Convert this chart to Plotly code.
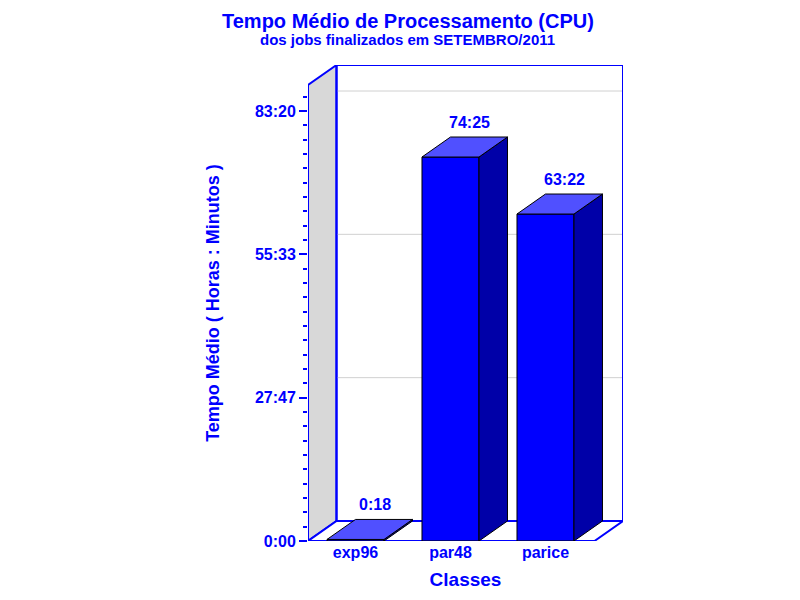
import plotly.graph_objects as go

classes = ["exp96", "par48", "parice"]
cpu_minutes = [18, 4465, 3802]          # 0:18, 74:25, 63:22
tick_minutes = [0, 1666.67, 3333.33, 5000]
tick_labels = ["0:00", "27:47", "55:33", "83:20"]

BLUE = "#0000FF"
FONT = "Liberation Sans"
YMAX = 5535
DY = 232.6      # depth offset in minutes (20px)
DX = 0.3        # depth offset in category units
HALF = 0.3
XMAX = 3.316
FRONT_TOP = 5302

def fmt(m):
    return f"{int(m)//60}:{int(m)%60:02d}"

fig = go.Figure()

def poly(xs, ys, fill, line="black", w=1):
    fig.add_trace(go.Scatter(x=xs + [xs[0]], y=ys + [ys[0]], fill="toself", fillcolor=fill,
                             mode="lines", line=dict(color=line, width=w),
                             hoverinfo="skip", showlegend=False))

poly([0, DX, DX, 0], [0, DY, FRONT_TOP + DY, FRONT_TOP], "#D8D8D8", BLUE, 2)
poly([0, DX, XMAX, XMAX - DX], [0, DY, DY, 0], "white", BLUE, 2)

for t in tick_minutes[1:]:
    fig.add_trace(go.Scatter(x=[DX, XMAX], y=[t + DY, t + DY], mode="lines",
                             line=dict(color="#D0D0D0", width=1), hoverinfo="skip", showlegend=False))

fig.add_trace(go.Scatter(x=[DX, DX, XMAX, XMAX], y=[DY, YMAX, YMAX, DY], mode="lines",
                         line=dict(color=BLUE, width=2), hoverinfo="skip", showlegend=False))
fig.add_trace(go.Scatter(x=[0, 0], y=[0, FRONT_TOP], mode="lines",
                         line=dict(color=BLUE, width=2), hoverinfo="skip", showlegend=False))

for i, v in enumerate(cpu_minutes):
    c = i + 0.5
    x0, x1 = c - HALF, c + HALF
    poly([x0, x1, x1, x0], [0, 0, v, v], "#0000FF")
    poly([x1, x1 + DX, x1 + DX, x1], [0, DY, v + DY, v], "#0000A8")
    poly([x0, x1, x1 + DX, x0 + DX], [v, v, v + DY, v + DY], "#5050FF")
    fig.add_annotation(x=c + 0.2, y=v + DY, text=f"<b>{fmt(v)}</b>", showarrow=False,
                       yshift=15, font=dict(family=FONT, size=16, color=BLUE))

fig.add_annotation(x=0.317, y=1, xref="paper", yref="paper", xanchor="center", yanchor="middle",
                   text="<b>Tempo Médio de Processamento (CPU)</b>", showarrow=False,
                   font=dict(family=FONT, size=20, color=BLUE), yshift=44)
fig.add_annotation(x=0.317, y=1, xref="paper", yref="paper", xanchor="center", yanchor="middle",
                   text="<b>dos jobs finalizados em SETEMBRO/2011</b>", showarrow=False,
                   font=dict(family=FONT, size=15, color=BLUE), yshift=26)

minor_vals = [k * 166.667 for k in range(0, 32)]

fig.update_layout(
    width=800, height=600, paper_bgcolor="white", plot_bgcolor="white",
    margin=dict(l=300, r=185, t=57, b=67, autoexpand=False), showlegend=False,
    xaxis=dict(range=[0, XMAX], showgrid=False, zeroline=False, showline=False,
               tickvals=[0.5, 1.5, 2.5], ticktext=[f"<b>{c}</b>" for c in classes],
               tickfont=dict(family=FONT, size=16, color=BLUE), ticks="", automargin=False,
               title=dict(text="<b>Classes</b>", font=dict(family=FONT, size=19, color=BLUE), standoff=12)),
    yaxis=dict(range=[0, YMAX], showgrid=False, zeroline=False, showline=False, automargin=False,
               tickvals=tick_minutes, ticktext=[f"<b>{t}</b>" for t in tick_labels],
               tickfont=dict(family=FONT, size=16, color=BLUE), ticks="outside",
               ticklen=8, tickcolor=BLUE, tickwidth=2,
               minor=dict(tickvals=minor_vals, ticks="outside", ticklen=4, tickcolor=BLUE),
               title=dict(text="<b>Tempo Médio ( Horas : Minutos )</b>",
                          font=dict(family=FONT, size=18, color=BLUE), standoff=30)),
)

fig.write_html("out.html")
